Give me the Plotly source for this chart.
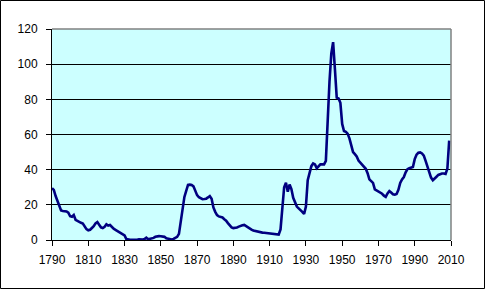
import plotly.graph_objects as go

start_year = 1790
debt_pct = [
    29.5, 28.5, 25.0, 22.0, 19.0, 16.8, 16.5, 16.5, 16.2, 15.5,   # 1790-1799
    13.5, 13.2, 14.2, 11.5, 10.8, 10.2, 9.8, 9.4, 7.8, 6.2,        # 1800-1809
    5.5, 5.8, 6.8, 7.8, 9.5, 10.2, 8.7, 7.2, 6.8, 7.5,             # 1810-1819
    8.9, 8.2, 8.5, 7.2, 6.4, 5.8, 5.2, 4.6, 4.0, 3.6,              # 1820-1829
    2.6, 0.5, 0.2, 0.1, 0.1, 0.0, 0.0, 0.1, 0.4, 0.2,              # 1830-1839
    0.3, 0.5, 1.3, 0.4, 0.6, 0.9, 1.2, 1.8, 2.2, 2.2,              # 1840-1849
    2.1, 2.0, 1.8, 1.0, 0.8, 0.6, 0.3, 0.6, 1.4, 1.8,              # 1850-1859
    3.5, 11.0, 20.0, 24.5, 28.0, 31.3, 31.5, 31.3, 30.5, 27.5,     # 1860-1869
    25.5, 24.3, 23.5, 23.2, 23.3, 23.5, 24.2, 25.0, 23.5, 18.5,    # 1870-1879
    16.0, 14.2, 13.4, 13.2, 12.8, 11.8, 11.0, 9.6, 8.2, 7.2,       # 1880-1889
    6.8, 6.8, 7.1, 7.6, 8.1, 8.4, 8.6, 7.8, 7.3, 6.6,              # 1890-1899
    5.9, 5.4, 5.1, 4.8, 4.5, 4.3, 4.2, 4.1, 4.0, 3.9,              # 1900-1909
    3.8, 3.7, 3.6, 3.5, 3.4, 3.1, 6.0, 18.0, 30.0, 32.5,           # 1910-1919
    27.5, 31.5, 29.0, 24.0, 21.0, 19.0, 18.0, 17.2, 16.0, 14.8,    # 1920-1929
    19.0, 34.0, 37.5, 42.0, 43.5, 43.0, 40.8, 42.0, 43.0, 43.0,    # 1930-1939
    43.0, 45.0, 70.0, 90.0, 106.0, 112.5, 97.0, 81.0, 80.5, 78.0,  # 1940-1949
    66.0, 62.0, 61.5, 60.5, 57.8, 53.0, 50.0, 48.8, 47.5, 45.2,    # 1950-1959
    44.0, 42.8, 42.0, 40.5, 38.0, 34.5, 33.5, 32.5, 28.8, 28.2,    # 1960-1969
    27.9, 27.0, 26.3, 25.2, 24.5, 26.5, 27.8, 27.0, 26.0, 25.8,    # 1970-1979
    26.2, 28.5, 32.5, 34.5, 35.8, 38.5, 40.3, 40.8, 41.0, 41.5,    # 1980-1989
    46.0, 48.5, 49.6, 49.8, 49.2, 48.0, 45.0, 41.5, 38.5, 35.5,    # 1990-1999
    34.0, 34.8, 36.0, 37.0, 37.6, 37.8, 37.8, 37.6, 40.5, 56.5,    # 2000-2009
]
years = list(range(start_year, start_year + len(debt_pct)))
x_ticks = list(range(1790, 2011, 20))
y_ticks = list(range(0, 121, 20))

fig = go.Figure()
fig.add_trace(go.Scatter(
    x=years, y=debt_pct, mode="lines",
    line=dict(color="#000080", width=2.6),
    hoverinfo="x+y",
))

L, R, T, B = 52, 34, 29, 49
W, H = 485, 289
pw, ph = W - L - R, H - T - B

fig.update_layout(
    width=W, height=H,
    margin=dict(l=L, r=R, t=T, b=B, pad=0),
    paper_bgcolor="white",
    plot_bgcolor="#CCFFFF",
    showlegend=False,
    font=dict(family="Arial, Liberation Sans, sans-serif", size=12, color="black"),
    xaxis=dict(
        range=[1790, 2010], tickvals=x_ticks, ticktext=[str(v) for v in x_ticks],
        showgrid=False, zeroline=False, showline=True, linecolor="black", linewidth=1,
        ticks="outside", ticklen=5, tickcolor="black", tickwidth=1,
        ticklabelstandoff=4,
    ),
    yaxis=dict(
        range=[0, 120], tickvals=y_ticks,
        showgrid=True, gridcolor="black", gridwidth=1,
        zeroline=False, showline=True, linecolor="black", linewidth=1,
        ticks="outside", ticklen=5, tickcolor="black", tickwidth=1,
        ticklabelstandoff=6,
    ),
    shapes=[
        # plot area top & right border (gray)
        dict(type="line", xref="paper", yref="paper", x0=0, x1=1, y0=1, y1=1,
             line=dict(color="#808080", width=1.5), layer="above"),
        dict(type="line", xref="paper", yref="paper", x0=1, x1=1, y0=0, y1=1,
             line=dict(color="#808080", width=1.5), layer="above"),
        # outer chart frame
        dict(type="rect", xref="paper", yref="paper",
             x0=(0.5 - L) / pw, x1=(W - 0.5 - L) / pw,
             y0=-(B - 0.5) / ph, y1=1 + (T - 0.5) / ph,
             line=dict(color="black", width=1), fillcolor="rgba(0,0,0,0)",
             layer="above"),
    ],
)

fig.write_html("out.html")
